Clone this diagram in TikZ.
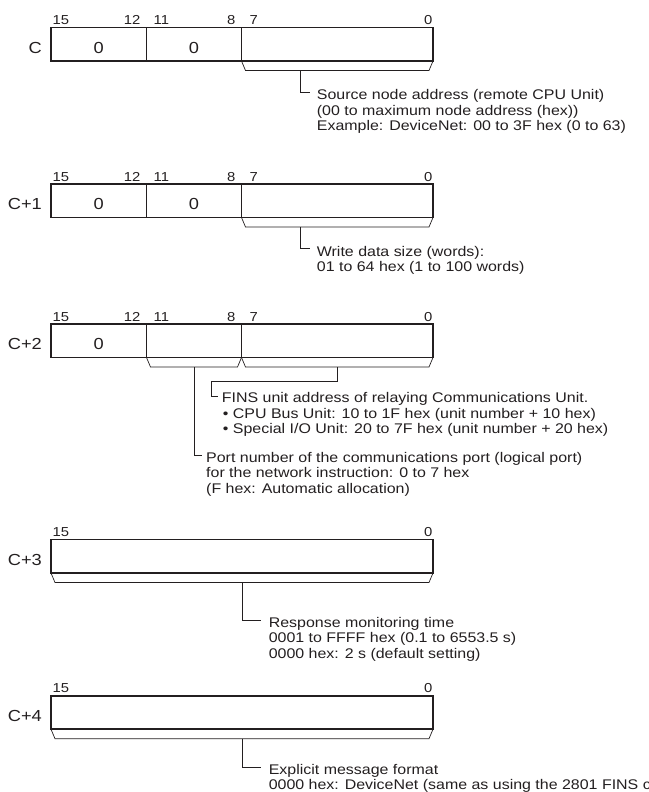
\documentclass[tikz,border=0pt]{standalone}
\usepackage{fontspec}
\setmainfont{Liberation Sans}[FakeStretch=1.14]
\usetikzlibrary{positioning,calc}
\definecolor{ink}{HTML}{231F20}
\newcommand{\notelines}[1]{\begin{tabular}[t]{@{}l@{}}#1\end{tabular}}

\begin{document}
\begin{tikzpicture}[x=1pt,y=-1pt,
  fld/.style={draw=ink,line width=0.9pt,outer sep=0pt,inner sep=0pt,
    minimum height=33.5pt,text height=18pt,text depth=0pt,text=ink,
    font=\fontsize{16}{18}\selectfont},
  frame/.style={draw=ink,line width=1.8pt},
  brk/.style={draw=ink,line width=0.7pt},
  bit/.style={inner sep=0pt,text=ink,font=\fontsize{13}{15}\selectfont},
  reg/.style={inner sep=0pt,anchor=base east,text=ink,font=\fontsize{16}{18}\selectfont},
  note/.style={inner sep=0pt,anchor=base west,text=ink,
    font=\fontsize{14}{15.5}\selectfont}]
  \useasboundingbox (0,0) rectangle (648,792);

  % word C
  \node[fld,minimum width=95.5pt,anchor=north west] (c15) at (51,27.5) {0};
  \node[fld,minimum width=95pt,right=0pt of c15] (c11) {0};
  \node[fld,minimum width=191.5pt,right=0pt of c11] (c7) {};
  \draw[frame] (c15.north west) rectangle (c7.south east);
  \node[reg] (cr) at ($(c15.south west)+(-9,-7.7)$) {C};
  \node[bit,anchor=south west] (cb15) at ($(c15.north west)+(1.5,-2.5)$) {15};
  \node[bit,anchor=south east] (cb12) at ($(c15.north east)+(-6,-2.5)$) {12};
  \node[bit,anchor=south west] (cb11) at ($(c11.north west)+(7,-2.5)$) {11};
  \node[bit,anchor=south east] (cb8)  at ($(c11.north east)+(-6,-2.5)$) {8};
  \node[bit,anchor=south west] (cb7)  at ($(c7.north west)+(8,-2.5)$) {7};
  \node[bit,anchor=south east] (cb0)  at ($(c7.north east)+(-0.5,-2.5)$) {0};
  \coordinate (cl) at ($(c7.south west)+(4,9.5)$);
  \coordinate (cr2) at ($(c7.south east)+(-4,9.5)$);
  \draw[brk] (c7.south west) -- (cl) -- (cr2) -- (c7.south east);
  \coordinate (cs) at ($(cl)!0.3!(cr2)$);
  \coordinate (ce) at (310,92.3);
  \draw[brk] (cs) |- (ce);
  \node[note] (cn) at ($(ce)+(6.7,7.5)$)
    {\notelines{Source node address (remote CPU Unit)\\(00 to maximum node address (hex))\\Example: DeviceNet: 00 to 3F hex (0 to 63)}};

  % word C+1
  \node[fld,minimum width=95.5pt,anchor=north west] (d15) at (51,184) {0};
  \node[fld,minimum width=95pt,right=0pt of d15] (d11) {0};
  \node[fld,minimum width=191.5pt,right=0pt of d11] (d7) {};
  \draw[frame] (d15.north west) rectangle (d7.south east);
  \node[reg] (dr) at ($(d15.south west)+(-9,-7.7)$) {C+1};
  \node[bit,anchor=south west] (db15) at ($(d15.north west)+(1.5,-2.5)$) {15};
  \node[bit,anchor=south east] (db12) at ($(d15.north east)+(-6,-2.5)$) {12};
  \node[bit,anchor=south west] (db11) at ($(d11.north west)+(7,-2.5)$) {11};
  \node[bit,anchor=south east] (db8)  at ($(d11.north east)+(-6,-2.5)$) {8};
  \node[bit,anchor=south west] (db7)  at ($(d7.north west)+(8,-2.5)$) {7};
  \node[bit,anchor=south east] (db0)  at ($(d7.north east)+(-0.5,-2.5)$) {0};
  \coordinate (dl) at ($(d7.south west)+(4,9.5)$);
  \coordinate (dr2) at ($(d7.south east)+(-4,9.5)$);
  \draw[brk] (d7.south west) -- (dl) -- (dr2) -- (d7.south east);
  \coordinate (ds) at ($(dl)!0.3!(dr2)$);
  \coordinate (de) at (310,248.8);
  \draw[brk] (ds) |- (de);
  \node[note] (dn) at ($(de)+(6.7,7.5)$)
    {\notelines{Write data size (words):\\01 to 64 hex (1 to 100 words)}};

  % word C+2
  \node[fld,minimum width=95.5pt,anchor=north west] (e15) at (51,324) {0};
  \node[fld,minimum width=95pt,right=0pt of e15] (e11) {};
  \node[fld,minimum width=191.5pt,right=0pt of e11] (e7) {};
  \draw[frame] (e15.north west) rectangle (e7.south east);
  \node[reg] (er) at ($(e15.south west)+(-9,-7.7)$) {C+2};
  \node[bit,anchor=south west] (eb15) at ($(e15.north west)+(1.5,-2.5)$) {15};
  \node[bit,anchor=south east] (eb12) at ($(e15.north east)+(-6,-2.5)$) {12};
  \node[bit,anchor=south west] (eb11) at ($(e11.north west)+(7,-2.5)$) {11};
  \node[bit,anchor=south east] (eb8)  at ($(e11.north east)+(-6,-2.5)$) {8};
  \node[bit,anchor=south west] (eb7)  at ($(e7.north west)+(8,-2.5)$) {7};
  \node[bit,anchor=south east] (eb0)  at ($(e7.north east)+(-0.5,-2.5)$) {0};
  \coordinate (el) at ($(e11.south west)+(4,9.5)$);
  \coordinate (em) at ($(e11.south east)+(-4,9.5)$);
  \draw[brk] (e11.south west) -- (el) -- (em) -- (e11.south east);
  \coordinate (fl) at ($(e7.south west)+(4,9.5)$);
  \coordinate (fr) at ($(e7.south east)+(-4,9.5)$);
  \draw[brk] (e7.south west) -- (fl) -- (fr) -- (e7.south east);
  \coordinate (fs) at ($(fl)!0.5!(fr)$);
  \coordinate (fk) at (211,381.7);
  \coordinate (fe) at (218,396.5);
  \draw[brk] (fs) |- (fk) |- (fe);
  \node[note] (fn) at ($(fe)+(3.7,6)$)
    {\notelines{FINS unit address of relaying Communications Unit.\\
     \hspace{1pt}• CPU Bus Unit: 10 to 1F hex (unit number + 10 hex)\\
     \hspace{1pt}• Special I/O Unit: 20 to 7F hex (unit number + 20 hex)}};
  \coordinate (es) at ($(el)!0.5!(em)$);
  \coordinate (ee) at (201.7,455.5);
  \draw[brk] (es) |- (ee);
  \node[note] (en) at ($(ee)+(4.3,6.5)$)
    {\notelines{Port number of the communications port (logical port)\\for the network instruction: 0 to 7 hex\\(F hex: Automatic allocation)}};

  % word C+3
  \node[fld,minimum width=382pt,anchor=north west] (g15) at (51,539.5) {};
  \draw[frame] (g15.north west) rectangle (g15.south east);
  \node[reg] (gr) at ($(g15.south west)+(-9,-7.7)$) {C+3};
  \node[bit,anchor=south west] (gb15) at ($(g15.north west)+(1.5,-2.5)$) {15};
  \node[bit,anchor=south east] (gb0)  at ($(g15.north east)+(-0.5,-2.5)$) {0};
  \coordinate (gl) at ($(g15.south west)+(4,9.5)$);
  \coordinate (gr2) at ($(g15.south east)+(-4,9.5)$);
  \draw[brk] (g15.south west) -- (gl) -- (gr2) -- (g15.south east);
  \coordinate (gs) at ($(gl)!0.5!(gr2)$);
  \coordinate (ge) at (261,620);
  \draw[brk] (gs) |- (ge);
  \node[note] (gn) at ($(ge)+(7.6,7.4)$)
    {\notelines{Response monitoring time\\0001 to FFFF hex (0.1 to 6553.5 s)\\0000 hex: 2 s (default setting)}};

  % word C+4
  \node[fld,minimum width=382pt,anchor=north west] (h15) at (51,695.7) {};
  \draw[frame] (h15.north west) rectangle (h15.south east);
  \node[reg] (hr) at ($(h15.south west)+(-9,-7.7)$) {C+4};
  \node[bit,anchor=south west] (hb15) at ($(h15.north west)+(1.5,-2.5)$) {15};
  \node[bit,anchor=south east] (hb0)  at ($(h15.north east)+(-0.5,-2.5)$) {0};
  \coordinate (hl) at ($(h15.south west)+(4,9.5)$);
  \coordinate (hr2) at ($(h15.south east)+(-4,9.5)$);
  \draw[brk] (h15.south west) -- (hl) -- (hr2) -- (h15.south east);
  \coordinate (hs) at ($(hl)!0.5!(hr2)$);
  \coordinate (he) at (261,767);
  \draw[brk] (hs) |- (he);
  \node[note] (hn) at ($(he)+(7.6,7.4)$)
    {\notelines{Explicit message format\\0000 hex: DeviceNet (same as using the 2801 FINS c}};
\end{tikzpicture}
\end{document}
